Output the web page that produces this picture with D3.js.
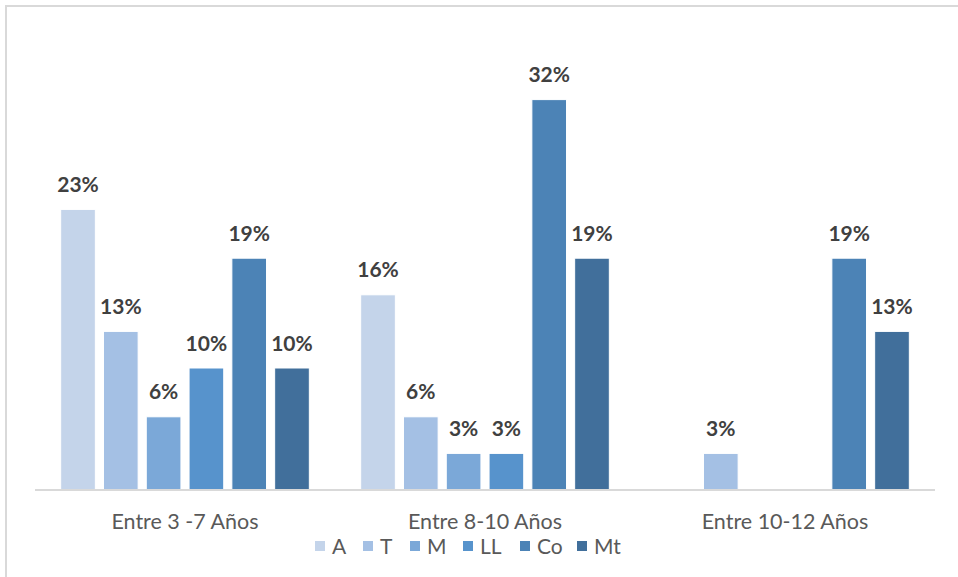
<!DOCTYPE html>
<html>
<head>
<meta charset="utf-8">
<script src="https://cdn.jsdelivr.net/npm/d3@7"></script>
<style>
  html, body { margin: 0; padding: 0; background: #fff; }
  svg { display: block; }
</style>
</head>
<body>
<svg id="chart" width="958" height="577"></svg>
<script>
// Age groups along the x axis
const categories = ["Entre 3 -7 Años", "Entre 8-10 Años", "Entre 10-12 Años"];
// Series (one bar per series in each age group)
const seriesNames = ["A", "T", "M", "LL", "Co", "Mt"];
const seriesColors = ["#c4d4ea", "#a4c0e4", "#7ba8d8", "#5793cc", "#4c83b6", "#416f9b"];
// Percentages per series, in category order (null = no bar)
const valuesA  = [23, 16, null];
const valuesT  = [13, 6, 3];
const valuesM  = [6, 3, null];
const valuesLL = [10, 3, null];
const valuesCo = [19, 32, 19];
const valuesMt = [10, 19, 13];
const seriesValues = [valuesA, valuesT, valuesM, valuesLL, valuesCo, valuesMt];
const yMax = 35;

const svg = d3.select("#chart");
const FONT = "Lato, 'Open Sans', sans-serif";

// outer frame
svg.append("rect")
  .attr("x", 6).attr("y", 6)
  .attr("width", 1000).attr("height", 700)
  .attr("fill", "#fff")
  .attr("stroke", "#d9d9d9")
  .attr("stroke-width", 2);

const plot = { left: 35, right: 935, bottom: 490 };

const x0 = d3.scaleBand()
  .domain(categories)
  .range([plot.left, plot.right])
  .paddingInner(0).paddingOuter(0);

const x1 = d3.scaleBand()
  .domain(seriesNames)
  .range([0, x0.bandwidth()])
  .paddingInner(0.19)
  .paddingOuter(0.6);

const y = d3.scaleLinear()
  .domain([0, yMax])
  .range([plot.bottom, plot.bottom - yMax * 12.2]);

const color = d3.scaleOrdinal().domain(seriesNames).range(seriesColors);

// flattened bar records
const bars = [];
categories.forEach((c, ci) => {
  seriesNames.forEach((s, si) => {
    const v = seriesValues[si][ci];
    if (v !== null) bars.push({ cat: c, series: s, value: v });
  });
});

svg.append("g").attr("class", "bars")
  .selectAll("rect")
  .data(bars)
  .join("rect")
  .attr("x", d => x0(d.cat) + x1(d.series))
  .attr("y", d => y(d.value))
  .attr("width", x1.bandwidth())
  .attr("height", d => y(0) - y(d.value))
  .attr("fill", d => color(d.series))
  .attr("stroke", "#fff")
  .attr("stroke-width", 1);

// value labels
svg.append("g").attr("class", "labels")
  .selectAll("text")
  .data(bars)
  .join("text")
  .attr("x", d => x0(d.cat) + x1(d.series) + x1.bandwidth() / 2)
  .attr("y", d => y(d.value) - 17.5)
  .attr("text-anchor", "middle")
  .attr("font-family", FONT)
  .attr("font-weight", "bold")
  .attr("font-size", 21)
  .attr("fill", "#404040")
  .text(d => d.value + "%");

// category axis
const xAxis = svg.append("g")
  .attr("transform", `translate(0,${plot.bottom})`)
  .call(d3.axisBottom(x0).tickSize(0).tickPadding(0));
xAxis.select(".domain")
  .attr("stroke", "#d9d9d9")
  .attr("stroke-width", 2)
  .attr("d", `M${plot.left},0H${plot.right}`);
xAxis.selectAll(".tick text")
  .attr("y", 39)
  .attr("dy", null)
  .attr("font-family", FONT)
  .attr("font-size", 21.5)
  .attr("fill", "#595959");

// legend
const legendX = [315, 363, 410, 463, 520, 577];
const items = svg.append("g").attr("class", "legend")
  .selectAll("g")
  .data(seriesNames)
  .join("g")
  .attr("transform", (d, i) => `translate(${legendX[i]},541)`);
items.append("rect")
  .attr("width", 10).attr("height", 10)
  .attr("fill", d => color(d));
items.append("text")
  .attr("x", 17)
  .attr("y", 12.5)
  .attr("font-family", FONT)
  .attr("font-size", 21)
  .attr("fill", "#595959")
  .text(d => d);
</script>
</body>
</html>
